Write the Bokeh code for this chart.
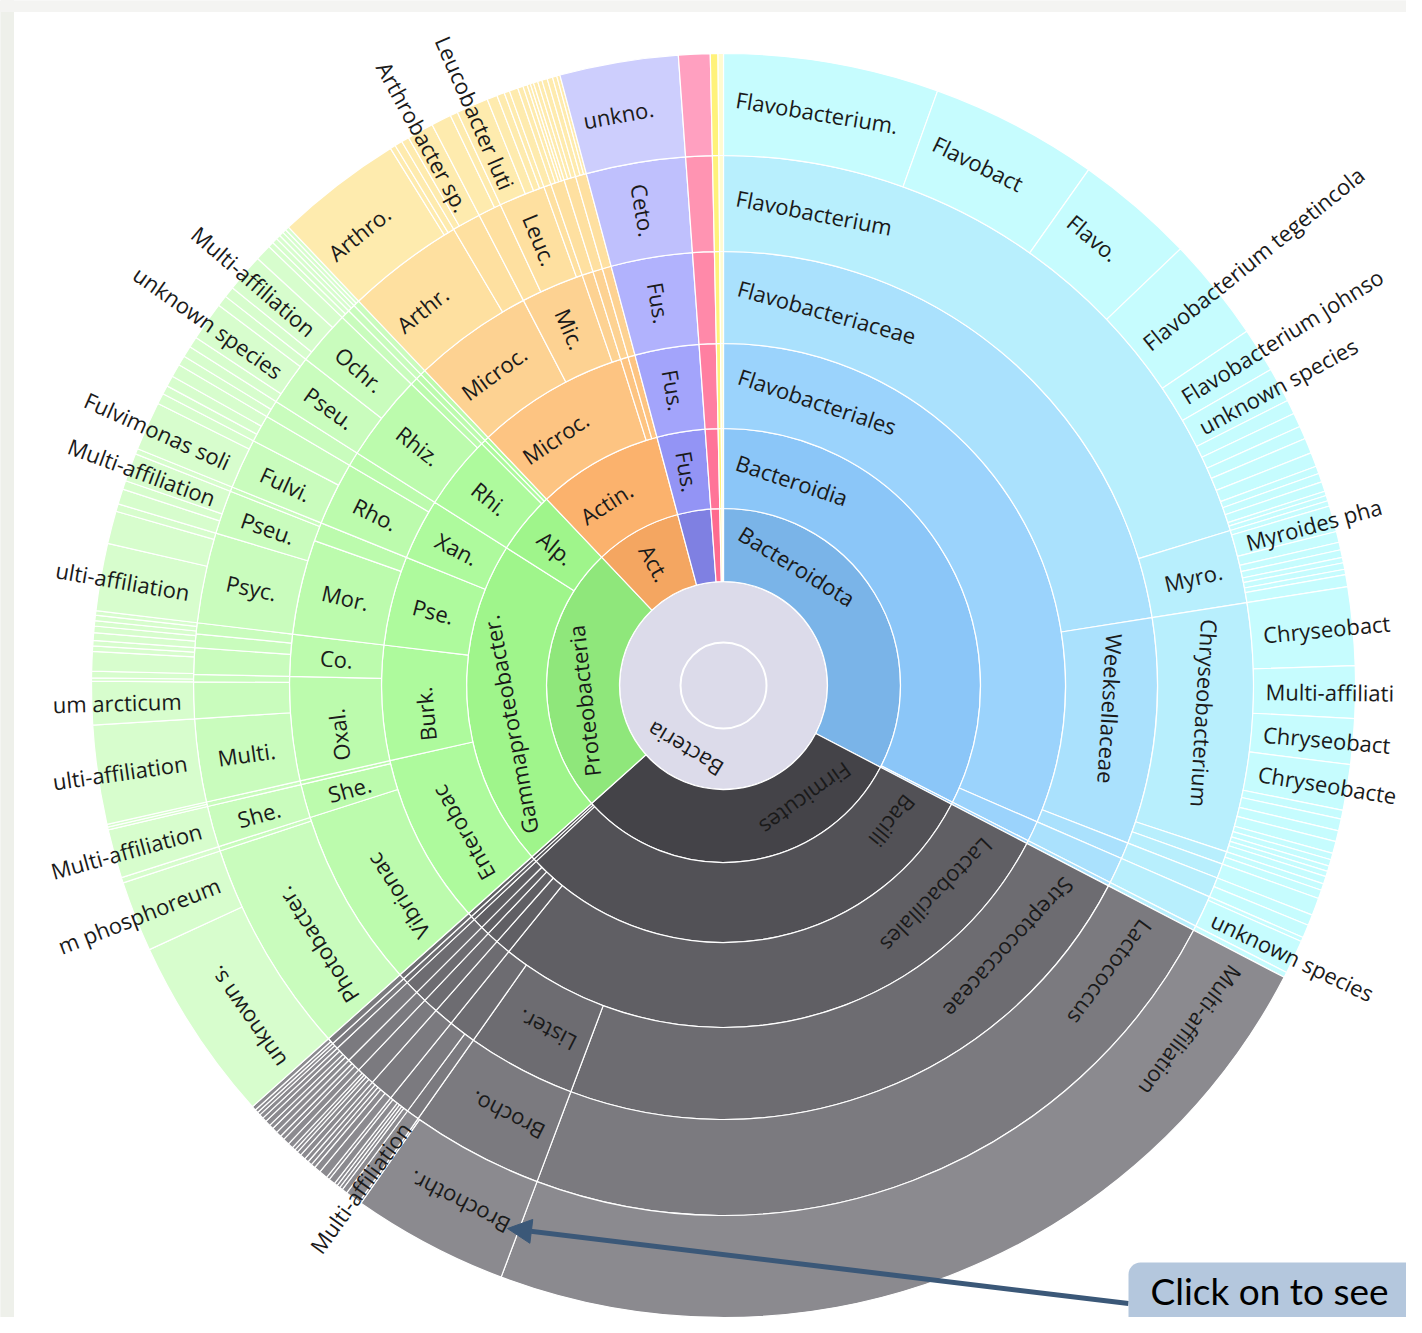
import math
from bokeh.plotting import figure
from bokeh.models import Range1d, ColumnDataSource, Arrow, NormalHead, BoxAnnotation, Label
from bokeh.core.properties import value
from bokeh.embed import file_html
from bokeh.resources import INLINE

# ------------------------------------------------------------------
# DATA: angular share (degrees, clockwise from 12 o'clock) per taxon,
# one list per taxonomic rank, in drawing order.
# group codes: B Bacteroidota, F Firmicutes, P Proteobacteria,
# A Actinobacteria, U Fusobacteria, K pink phylum, Y/Y2 yellow phyla
# ------------------------------------------------------------------
root_label = "Bacteria"

phylum_group = ["B", "F", "P", "A", "U", "K", "Y", "Y2"]
phylum_span = [117.5, 110.7, 88.3, 28.5, 10.9, 2.9, 0.7, 0.5]
phylum_label = ["Bacteroidota", "Firmicutes", "Proteobacteria", "Act.", "", "", "", ""]

class_group = ["B", "B", "F", "F", "F", "P", "P", "A", "U", "K", "Y", "Y2"]
class_span = [117.0, 0.5, 109.3, 0.7, 0.7, 74.2, 14.1, 28.5, 10.9, 2.9, 0.7, 0.5]
class_label = ["Bacteroidia", "", "Bacilli", "", "", "Gammaproteobacter.", "Alp.", "Actin.", "Fus.", "", "", ""]

order_group = ["B"] * 3 + ["F"] * 7 + ["P"] * 7 + ["A"] * 3 + ["U", "K", "Y", "Y2"]
order_span = [113.5, 3.5, 0.5,
              101.4, 2.6, 2.0, 1.5, 1.8, 0.7, 0.7,
              29.1, 19.5, 15.2, 10.4, 12.6, 0.8, 0.7,
              26.0, 1.3, 1.2,
              10.9, 2.9, 0.7, 0.5]
order_label = ["Flavobacteriales", "", "",
               "Lactobacillales", "", "", "", "", "", "",
               "Enterobac", "Burk.", "Pse.", "Xan.", "Rhi.", "", "",
               "Microc.", "", "",
               "Fus.", "", "", ""]

family_group = ["B"] * 5 + ["F"] * 9 + ["P"] * 13 + ["A"] * 5 + ["U", "K", "Y", "Y2"]
family_span = [81.0, 30.3, 2.2, 3.5, 0.5,
               83.1, 14.6, 3.7, 2.6, 2.0, 1.5, 1.8, 0.7, 0.7,
               24.1, 4.5, 0.5, 13.9, 5.6, 12.7, 2.5, 8.5, 1.9, 11.6, 1.0, 0.8, 0.7,
               16.05, 8.45, 1.5, 1.3, 1.2,
               10.9, 2.9, 0.7, 0.5]
family_label = ["Flavobacteriaceae", "Weeksellaceae", "", "", "",
                "Streptococcaceae", "Lister.", "", "", "", "", "", "", "",
                "Vibrionac", "She.", "", "Oxal.", "Co.", "Mor.", "", "Rho.", "", "Rhiz.", "", "", "",
                "Microc.", "Mic.", "", "", "",
                "Fus.", "", "", ""]

genus_group = ["B"] * 8 + ["F"] * 10 + ["P"] * 21 + ["A"] * 8 + ["U", "K", "Y", "Y2"]
genus_span = [73.0, 8.0, 27.3, 1.4, 1.6, 2.2, 3.5, 0.5,
              83.1, 14.6, 1.4, 2.3, 2.6, 2.0, 1.5, 1.8, 0.7, 0.7,
              23.6, 0.5, 4.5, 0.5, 9.1, 4.0, 0.8, 2.9, 1.5, 1.2, 9.9, 4.8, 0.5, 5.5, 3.0, 1.9, 5.6, 6.0, 1.0, 0.8, 0.7,
              12.9, 3.15, 2.55, 5.1, 0.8, 1.5, 1.3, 1.2,
              10.9, 2.9, 0.7, 0.5]
genus_label = ["Flavobacterium", "Myro.", "Chryseobacterium", "", "", "", "", "",
               "Lactococcus", "Brocho.", "", "", "", "", "", "", "", "",
               "Photobacter.", "", "She.", "", "Multi.", "", "", "", "", "", "Psyc.", "Pseu.", "", "Fulvi.", "", "", "Pseu.", "Ochr.", "", "", "",
               "Arthr.", "", "", "Leuc.", "", "", "", "",
               "Ceto.", "", "", ""]

species_span_B = [19.8, 15.5, 11.0, 9.6, 4.1, 3.2,
                  1.3, 1.3, 1.2, 1.4, 1.3, 0.7, 0.8, 0.9, 0.4, 0.5,
                  0.5, 2.4, 1.0, 0.7, 0.7, 0.5, 0.6, 0.5, 1.1,
                  7.2, 4.8, 4.2, 4.2, 0.8, 1.1, 1.0, 1.1, 0.6, 0.6, 0.5, 0.5, 0.7,
                  0.6, 0.8, 1.6, 1.0, 1.2, 0.4, 3.1, 0.5]
species_label_B = ["Flavobacterium.", "Flavobact", "Flavo.", "Flavobacterium tegetincola",
                   "Flavobacterium johnso", "unknown species"] + [""] * 10 + \
                  ["", "Myroides pha"] + [""] * 7 + \
                  ["Chryseobact", "Multi-affiliati", "Chryseobact", "Chryseobacte"] + [""] * 9 + \
                  ["", "", "", "", "", "", "unknown species", ""]
species_span_F = [83.1, 14.4, 0.2, 1.4,
                  0.5, 0.3, 0.3, 0.3, 0.6, 0.3, 0.8, 0.6, 0.4, 0.4, 0.4,
                  0.5, 0.4, 0.3, 0.3, 0.5, 0.6, 0.4, 0.5, 0.5, 0.4, 0.5, 0.4,
                  0.4, 0.3, 0.3, 0.4]
species_label_F = ["Multi-affiliation", "Brochothr.", "", "Multi-affiliation"] + [""] * 27
species_span_P = [17.1, 6.5, 0.5, 4.5, 0.25, 0.25, 9.1, 4.0,
                  0.3, 0.6, 1.8, 0.5, 0.5, 0.7, 0.6, 0.5, 0.5, 0.4,
                  6.2, 3.0, 0.7, 1.4, 0.8, 2.6, 0.5, 4.5, 1.0,
                  0.8, 1.0, 1.2, 0.9, 1.0, 1.0, 3.6, 1.0, 1.0, 3.5, 1.5,
                  0.5, 0.5, 0.4, 0.4, 0.35, 0.35]
species_label_P = ["unknown s.", "m phosphoreum", "", "Multi-affiliation", "", "", "ulti-affiliation", "um arcticum"] + \
                  [""] * 10 + \
                  ["ulti-affiliation", "", "", "", "", "Multi-affiliation", "", "Fulvimonas soli", "",
                   "", "", "", "", "", "", "unknown species", "", "", "Multi-affiliation", ""] + [""] * 6
species_span_A = [11.7, 0.5, 0.7, 0.7, 2.45, 1.85, 0.7, 2.95, 0.95, 0.7, 0.5, 0.8,
                  0.5, 0.4, 0.3, 0.3, 0.4, 0.4, 0.5, 0.5, 0.4, 0.3]
species_label_A = ["Arthro.", "", "", "", "Arthrobacter sp.", "", "", "Leucobacter luti"] + [""] * 14

species_group = (["B"] * len(species_span_B) + ["F"] * len(species_span_F) +
                 ["P"] * len(species_span_P) + ["A"] * len(species_span_A) + ["U", "K", "Y", "Y2"])
species_span = species_span_B + species_span_F + species_span_P + species_span_A + [10.9, 2.9, 0.7, 0.5]
species_label = species_label_B + species_label_F + species_label_P + species_label_A + ["unkno.", "", "", ""]

callout_text = "Click on to see"

# ------------------------------------------------------------------
# STYLE
# ------------------------------------------------------------------
RADII = [43, 104, 177, 257, 342, 434, 530, 632]
IMG_H = 1333
CX, CY = 723, IMG_H - 685
FONT = "Open Sans"
FS = 22
PAD = 12
PAL = {
    "B": ["#7ab4e8", "#8bc6f8", "#9bd3fc", "#aae1fd", "#b8effd", "#c6fcfe"],
    "F": ["#444348", "#525156", "#605f64", "#6d6c71", "#7b7a7f", "#8b8a8f"],
    "P": ["#8fe77b", "#9ff58b", "#aefa9d", "#bcfbad", "#c9fcbd", "#d7fdcd"],
    "A": ["#f4a661", "#fbb26d", "#fdc482", "#fdd292", "#fee0a0", "#feebae"],
    "U": ["#7f80e2", "#9394f5", "#a3a4fb", "#b1b2fd", "#bfc0fd", "#cdcefd"],
    "K": ["#ff6b8f", "#ff7498", "#ff7fa1", "#ff89a9", "#ff94b2", "#ffa0c0"],
    "Y": ["#fff27a"] * 6,
    "Y2": ["#fffbd0"] * 6,
}


def text_width(s, fs):
    w = 0.0
    for ch in s:
        if ch in "ilj.,'!:;|":
            w += 0.26
        elif ch in "frt":
            w += 0.37
        elif ch == " ":
            w += 0.26
        elif ch == "-":
            w += 0.32
        elif ch in "mw":
            w += 0.86
        elif ch in "ceszvxyk":
            w += 0.5
        elif ch.isupper():
            w += 0.86 if ch in "MW" else (0.3 if ch == "I" else 0.63)
        else:
            w += 0.59
    return w * fs


def polar(r, theta_deg):
    t = math.radians(theta_deg)
    return CX + r * math.sin(t), CY + r * math.cos(t)


W, H = 1406, 1317
p = figure(width=W, height=H, x_range=Range1d(0, W), y_range=Range1d(IMG_H - H, IMG_H),
           output_backend="svg", toolbar_location=None, min_border=0,
           x_axis_location=None, y_axis_location=None)
p.grid.visible = False
p.outline_line_color = None
p.background_fill_color = "white"
p.border_fill_color = "white"

# pale page edges
p.quad(left=[0], right=[13], bottom=[IMG_H - H], top=[IMG_H], color="#eef0ea")
p.quad(left=[0], right=[W], bottom=[IMG_H - 11], top=[IMG_H], color="#f4f4f2")

# root disc
p.circle(x=[CX], y=[CY], radius=RADII[1], fill_color="#dcdbea", line_color="white", line_width=1.5)
p.circle(x=[CX], y=[CY], radius=RADII[0], fill_color="#dcdbea", line_color="white", line_width=2)

rings = [
    (phylum_group, phylum_span, phylum_label),
    (class_group, class_span, class_label),
    (order_group, order_span, order_label),
    (family_group, family_span, family_label),
    (genus_group, genus_span, genus_label),
    (species_group, species_span, species_label),
]

labels = {"left": dict(x=[], y=[], text=[], angle=[]),
          "center": dict(x=[], y=[], text=[], angle=[]),
          "right": dict(x=[], y=[], text=[], angle=[])}


def add_label(align, x, y, text, ang):
    d = labels[align]
    d["x"].append(x)
    d["y"].append(y)
    d["text"].append(text)
    d["angle"].append(ang)


for level, (grp, span, lab) in enumerate(rings):
    r_in, r_out = RADII[level + 1], RADII[level + 2]
    r_mid = (r_in + r_out) / 2.0
    thick = r_out - r_in
    starts, ends, colors = [], [], []
    t = 0.0
    for g, s, l in zip(grp, span, lab):
        t1, t2 = t, t + s
        t = t2
        starts.append(math.radians(90 - t2))
        ends.append(math.radians(90 - t1))
        colors.append(PAL[g][level])
        if not l:
            continue
        w = text_width(l, FS)
        arc = math.radians(t2 - t1) * r_mid
        if arc > thick:
            tc = t1 + math.degrees((PAD + w / 2.0) / r_mid)
            x, y = polar(r_mid, tc)
            add_label("center", x, y, l, math.radians(-tc))
        else:
            tc = (t1 + t2) / 2.0
            ang = math.radians(90 - tc) if tc < 180 else math.radians(270 - tc)
            if w <= thick - 2 * PAD:
                x, y = polar(r_mid, tc)
                add_label("center", x, y, l, ang)
            else:
                x, y = polar(r_in + PAD, tc)
                add_label("left" if tc < 180 else "right", x, y, l, ang)
    src = ColumnDataSource(dict(start=starts, end=ends, color=colors))
    p.annular_wedge(x=CX, y=CY, inner_radius=r_in, outer_radius=r_out,
                    start_angle="start", end_angle="end", fill_color="color",
                    line_color="white", line_width=1.2, source=src)

# root label
rx, ry = polar(75, 211)
add_label("center", rx, ry, root_label, math.radians(-211))

for align, d in labels.items():
    if d["x"]:
        p.text(x="x", y="y", text="text", angle="angle", source=ColumnDataSource(d),
               text_font=value(FONT), text_font_size=f"{FS}px", text_color="#1a1a1a",
               text_align=align, text_baseline="middle")

# call-out
NAVY = "#3b5878"
p.add_layout(Arrow(end=NormalHead(size=24, fill_color=NAVY, line_color=NAVY),
                   x_start=1128, y_start=IMG_H - 1303, x_end=507, y_end=IMG_H - 1228,
                   line_color=NAVY, line_width=5))
p.add_layout(BoxAnnotation(left=1128, right=1450, bottom=-30, top=IMG_H - 1262,
                           fill_color="#b4c7dd", fill_alpha=1.0, line_alpha=0,
                           border_radius=12))
p.add_layout(Label(x=1150, y=IMG_H - 1290, text=callout_text, text_font="Lato",
                   text_font_size="37px", text_color="black", text_baseline="middle"))

open("out.html", "w").write(file_html(p, INLINE))
